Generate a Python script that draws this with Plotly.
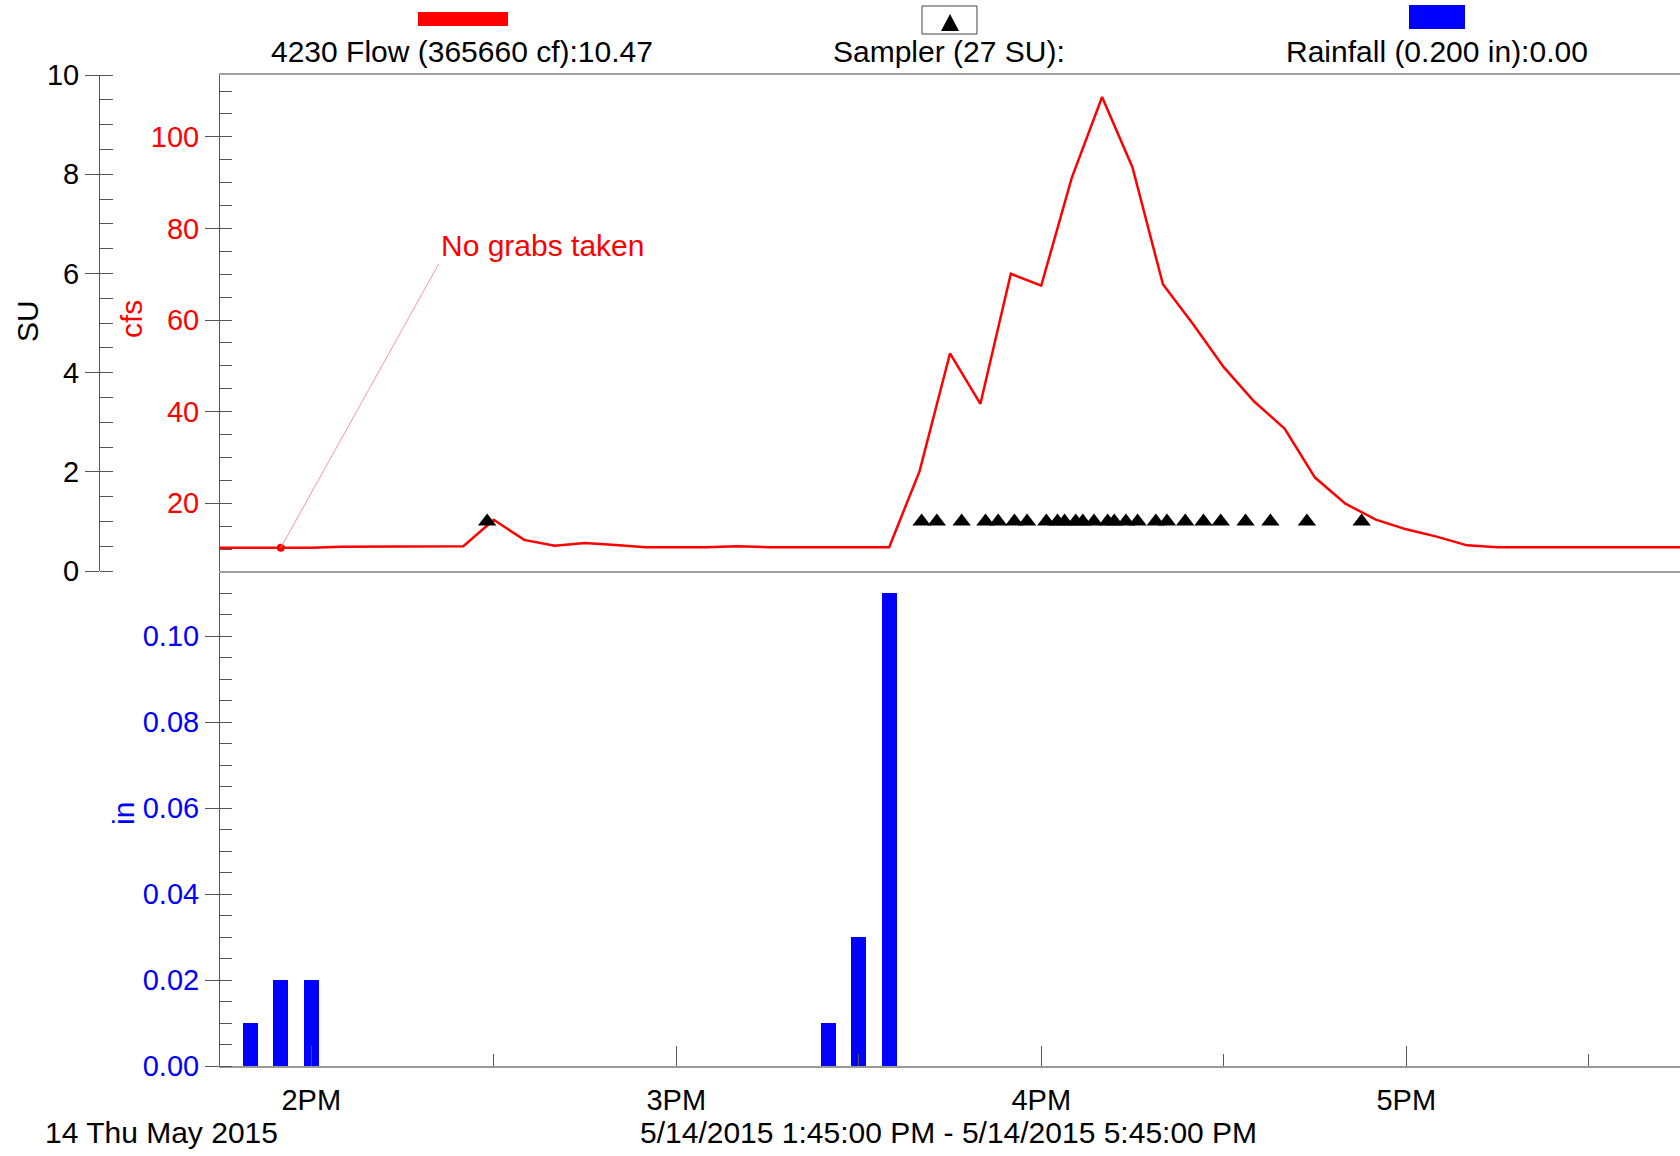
import plotly.graph_objects as go

# ---------------- data ----------------
flow_time = [
    "2015-05-14 13:45", "2015-05-14 13:50", "2015-05-14 13:55", "2015-05-14 14:00",
    "2015-05-14 14:05", "2015-05-14 14:10", "2015-05-14 14:15", "2015-05-14 14:20",
    "2015-05-14 14:25", "2015-05-14 14:30", "2015-05-14 14:35", "2015-05-14 14:40",
    "2015-05-14 14:45", "2015-05-14 14:50", "2015-05-14 14:55", "2015-05-14 15:00",
    "2015-05-14 15:05", "2015-05-14 15:10", "2015-05-14 15:15", "2015-05-14 15:20",
    "2015-05-14 15:25", "2015-05-14 15:30", "2015-05-14 15:35", "2015-05-14 15:40",
    "2015-05-14 15:45", "2015-05-14 15:50", "2015-05-14 15:55", "2015-05-14 16:00",
    "2015-05-14 16:05", "2015-05-14 16:10", "2015-05-14 16:15", "2015-05-14 16:20",
    "2015-05-14 16:25", "2015-05-14 16:30", "2015-05-14 16:35", "2015-05-14 16:40",
    "2015-05-14 16:45", "2015-05-14 16:50", "2015-05-14 16:55", "2015-05-14 17:00",
    "2015-05-14 17:05", "2015-05-14 17:10", "2015-05-14 17:15", "2015-05-14 17:20",
    "2015-05-14 17:25", "2015-05-14 17:30", "2015-05-14 17:35", "2015-05-14 17:40",
    "2015-05-14 17:45",
]
flow_cfs = [
    10.3, 10.3, 10.3, 10.3,
    10.5, 10.5, 10.5, 10.5,
    10.6, 16.4, 12.0, 10.7,
    11.3, 10.9, 10.4, 10.4,
    10.4, 10.6, 10.4, 10.4,
    10.4, 10.4, 10.4, 27.0,
    52.7, 41.7, 70.1, 67.5,
    91.0, 108.7, 93.3, 67.8,
    59.0, 49.7, 42.2, 36.3,
    25.6, 19.9, 16.4, 14.3,
    12.7, 10.8, 10.4, 10.4,
    10.4, 10.4, 10.4, 10.4,
    10.4,
]

rain_time = ["2015-05-14 13:50", "2015-05-14 13:55", "2015-05-14 14:00",
             "2015-05-14 15:25", "2015-05-14 15:30", "2015-05-14 15:35"]
rain_in = [0.01, 0.02, 0.02, 0.01, 0.03, 0.11]

sampler_time = [
    "2015-05-14 14:28:55", "2015-05-14 15:40:20", "2015-05-14 15:42:50",
    "2015-05-14 15:46:55", "2015-05-14 15:50:50", "2015-05-14 15:52:55",
    "2015-05-14 15:55:35", "2015-05-14 15:57:40", "2015-05-14 16:00:50",
    "2015-05-14 16:02:40", "2015-05-14 16:03:50", "2015-05-14 16:05:40",
    "2015-05-14 16:06:50", "2015-05-14 16:08:40", "2015-05-14 16:10:55",
    "2015-05-14 16:12:00", "2015-05-14 16:13:55", "2015-05-14 16:15:50",
    "2015-05-14 16:18:50", "2015-05-14 16:20:40", "2015-05-14 16:23:40",
    "2015-05-14 16:26:40", "2015-05-14 16:29:30", "2015-05-14 16:33:35",
    "2015-05-14 16:37:40", "2015-05-14 16:43:40", "2015-05-14 16:52:40",
]
sampler_su = [1, 1, 1, 1, 1, 1, 1, 1, 1, 1, 1, 1, 1, 1,
              1, 1, 1, 1, 1, 1, 1, 1, 1, 1, 1, 1, 1]

no_grab_time = "2015-05-14 13:55"
no_grab_cfs = 10.3
no_grab_text = "No grabs taken"

x_range = ["2015-05-14 13:45", "2015-05-14 17:45"]
x_tick_vals = ["2015-05-14 14:00", "2015-05-14 15:00", "2015-05-14 16:00", "2015-05-14 17:00"]
x_tick_text = ["2PM", "3PM", "4PM", "5PM"]
su_tick_vals = [0, 2, 4, 6, 8, 10]
cfs_tick_vals = [20, 40, 60, 80, 100]
in_tick_vals = [0.00, 0.02, 0.04, 0.06, 0.08, 0.10]

legend_flow = "4230 Flow (365660 cf):10.47"
legend_sampler = "Sampler (27 SU):"
legend_rain = "Rainfall (0.200 in):0.00"
date_label = "14 Thu May 2015"
period_label = "5/14/2015 1:45:00 PM - 5/14/2015 5:45:00 PM"

# ---------------- layout geometry (pixels) ----------------
W, H = 1680, 1156
L, R, T, B = 99, 1680, 75, 1066
SPLIT = 571
PW, PH = R - L, B - T


def px(x):
    return (x - L) / PW


def py(y):
    return (B - y) / PH


FONT = "Arial, 'Liberation Sans', sans-serif"
FS = 29      # tick labels
FT = 30      # free texts
RED = "#ff0000"
BLUE = "#0000ff"
AX = "#555555"

lower_dom = [0, py(SPLIT)]
upper_dom = [py(SPLIT), 1]
x_dom = [px(220), 1]

fig = go.Figure()

fig.add_trace(go.Bar(
    x=rain_time, y=rain_in, xaxis="x", yaxis="y",
    width=148000, marker=dict(color=BLUE, line=dict(width=0)),
))
fig.add_trace(go.Scatter(
    x=flow_time, y=flow_cfs, xaxis="x2", yaxis="y2", mode="lines",
    line=dict(color=RED, width=2.5),
))
fig.add_trace(go.Scatter(
    x=[no_grab_time], y=[no_grab_cfs], xaxis="x2", yaxis="y2", mode="markers",
    marker=dict(color=RED, size=8),
))
fig.add_trace(go.Scatter(
    x=sampler_time, y=sampler_su, xaxis="x2", yaxis="y3", mode="markers",
    marker=dict(symbol="triangle-up", color="black", size=16),
    cliponaxis=False,
))


def tickfont(c):
    return dict(family=FONT, size=FS, color=c)


fig.update_layout(
    width=W, height=H,
    margin=dict(l=L, r=W - R, t=T, b=H - B, pad=0),
    paper_bgcolor="white", plot_bgcolor="white",
    showlegend=False,
    font=dict(family=FONT, size=FT, color="black"),
    bargap=0,
    xaxis=dict(
        domain=x_dom, anchor="y", type="date", range=x_range,
        tickmode="array", tickvals=x_tick_vals, ticktext=x_tick_text,
        ticks="inside", ticklen=20, tickcolor=AX, tickwidth=1,
        minor=dict(tickmode="linear", tick0="2015-05-14 13:30", dtick=1800000,
                   ticks="inside", ticklen=12, tickcolor=AX),
        showline=True, linecolor="#999999", linewidth=2,
        showgrid=False, zeroline=False,
        tickfont=tickfont("black"), ticklabelstandoff=7,
    ),
    xaxis2=dict(
        domain=x_dom, anchor="y2", type="date", matches="x",
        showticklabels=False, ticks="",
        showline=True, linecolor="#a0a0a0", linewidth=2, mirror=True,
        showgrid=False, zeroline=False,
    ),
    yaxis=dict(
        domain=lower_dom, anchor="x", range=[0, 0.1152],
        tickmode="array", tickvals=in_tick_vals, tickformat=".2f",
        ticks="outside", ticklen=14, tickcolor=AX,
        minor=dict(tickmode="linear", tick0=0, dtick=0.005, ticks="inside",
                   ticklen=12, tickcolor=AX),
        showline=True, linecolor=AX, linewidth=1,
        showgrid=False, zeroline=False, tickfont=tickfont(BLUE),
    ),
    yaxis2=dict(
        domain=upper_dom, anchor="x2", range=[5.2, 113.5],
        tickmode="array", tickvals=cfs_tick_vals,
        ticks="outside", ticklen=14, tickcolor=AX,
        minor=dict(tickmode="linear", tick0=0, dtick=5, ticks="inside",
                   ticklen=12, tickcolor=AX),
        showline=True, linecolor=AX, linewidth=1,
        showgrid=False, zeroline=False, tickfont=tickfont(RED),
    ),
    yaxis3=dict(
        overlaying="y2", anchor="free", position=0, side="left", range=[0, 10],
        tickmode="array", tickvals=su_tick_vals,
        ticks="outside", ticklen=14, tickcolor=AX,
        minor=dict(tickmode="linear", tick0=0, dtick=0.5, ticks="inside",
                   ticklen=13, tickcolor=AX),
        showline=True, linecolor=AX, linewidth=1,
        showgrid=False, zeroline=False, tickfont=tickfont("black"),
    ),
)


def label(text, x, y, color="black", angle=0, xanchor="center"):
    return dict(text=text, x=px(x), y=py(y), xref="paper", yref="paper",
                xanchor=xanchor, yanchor="middle", textangle=angle,
                showarrow=False, font=dict(color=color, size=FT))


ann = [
    label("SU", 27, 321, "black", -90),
    label("cfs", 131, 319, RED, -90),
    label("in", 123, 814, BLUE, -90),
    label(legend_flow, 462, 52),
    label(legend_sampler, 949, 52),
    label(legend_rain, 1437, 52),
    label(date_label, 43, 1132, xanchor="left"),
    label(period_label, 948, 1132),
    dict(text=no_grab_text, x=no_grab_time, y=no_grab_cfs, xref="x2", yref="y2",
         showarrow=True, arrowhead=0, arrowwidth=1, arrowcolor="#f29a9a",
         ax=158, ay=-284, xanchor="left", yanchor="bottom",
         font=dict(color=RED, size=FT)),
]
fig.update_layout(annotations=ann)

shapes = []
shapes.append(dict(type="rect", xref="paper", yref="paper",
                   x0=px(418), x1=px(508), y0=py(26), y1=py(12),
                   fillcolor=RED, line=dict(width=0)))
shapes.append(dict(type="rect", xref="paper", yref="paper",
                   x0=px(922), x1=px(977), y0=py(34), y1=py(6),
                   fillcolor="white", line=dict(color="#444444", width=1)))
tri = "M {:.5f},{:.5f} L {:.5f},{:.5f} L {:.5f},{:.5f} Z".format(
    px(941), py(31), px(959), py(31), px(950), py(14))
shapes.append(dict(type="path", xref="paper", yref="paper", path=tri,
                   fillcolor="black", line=dict(width=0)))
shapes.append(dict(type="rect", xref="paper", yref="paper",
                   x0=px(1409), x1=px(1465), y0=py(29), y1=py(5),
                   fillcolor=BLUE, line=dict(width=0)))
fig.update_layout(shapes=shapes)

fig.write_html("out.html")
